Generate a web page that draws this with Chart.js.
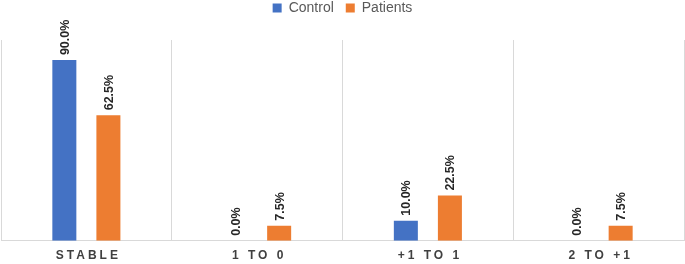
<!DOCTYPE html>
<html>
<head>
<meta charset="utf-8">
<script src="https://cdn.jsdelivr.net/npm/chart.js@4/dist/chart.umd.min.js"></script>
<style>
html,body{margin:0;padding:0;background:#fff;}
#wrap{width:685px;height:264px;position:relative;}
</style>
</head>
<body>
<div id="wrap"><canvas id="c"></canvas></div>
<script>
const categories = ["STABLE", "1 TO 0", "+1 TO 1", "2 TO +1"];
const controlValues = [90.0, 0.0, 10.0, 0.0];
const patientValues = [62.5, 7.5, 22.5, 7.5];
const seriesNames = ["Control", "Patients"];

const legendGap = {
  id: 'legendGap',
  beforeInit(chart) {
    const orig = chart.legend.fit;
    chart.legend.fit = function () {
      orig.bind(chart.legend)();
      this.height += 15;
    };
  }
};

const labelPlugin = {
  id: 'barLabels',
  afterDatasetsDraw(chart) {
    const ctx = chart.ctx;
    ctx.save();
    ctx.font = 'bold 12.5px "Liberation Sans", Arial, sans-serif';
    ctx.fillStyle = '#262626';
    ctx.textAlign = 'left';
    ctx.textBaseline = 'middle';
    chart.data.datasets.forEach((ds, di) => {
      const meta = chart.getDatasetMeta(di);
      meta.data.forEach((bar, i) => {
        const txt = ds.data[i].toFixed(1) + '%';
        ctx.save();
        ctx.translate(bar.x + 1, bar.y - 5);
        ctx.rotate(-Math.PI / 2);
        ctx.fillText(txt, 0, 0);
        ctx.restore();
      });
    });
    ctx.restore();
  },
  afterDraw(chart) {
    const ctx = chart.ctx;
    const xs = chart.scales.x;
    ctx.save();
    ctx.font = 'bold 12px "Liberation Sans", Arial, sans-serif';
    ctx.fillStyle = '#404040';
    ctx.textAlign = 'center';
    ctx.textBaseline = 'middle';
    ctx.letterSpacing = '3px';
    categories.forEach((c, i) => {
      const x = xs.getPixelForValue(i);
      ctx.fillText(c, x + 2, 256);
    });
    ctx.restore();
  }
};

new Chart(document.getElementById('c'), {
  type: 'bar',
  data: {
    labels: categories,
    datasets: [
      { label: seriesNames[0], data: controlValues, backgroundColor: '#4472C4', categoryPercentage: 0.516, barPercentage: 0.545 },
      { label: seriesNames[1], data: patientValues, backgroundColor: '#ED7D31', categoryPercentage: 0.516, barPercentage: 0.545 }
    ]
  },
  options: {
    responsive: true,
    maintainAspectRatio: false,
    animation: false,
    layout: { padding: { left: 1, right: 1, top: -11, bottom: 0 } },
    plugins: {
      legend: {
        position: 'top',
        labels: {
          boxWidth: 9, boxHeight: 9, padding: 12,
          color: '#595959',
          font: { size: 14, family: '"Liberation Sans", Arial, sans-serif' }
        }
      },
      tooltip: { enabled: false }
    },
    scales: {
      x: {
        grid: { offset: true, color: '#D9D9D9', drawTicks: false },
        border: { color: '#D9D9D9' },
        ticks: { color: 'rgba(0,0,0,0)', font: { size: 11, weight: 'bold' }, padding: 5 }
      },
      y: {
        display: false,
        min: 0, max: 100
      }
    }
  },
  plugins: [legendGap, labelPlugin]
});
</script>
</body>
</html>
